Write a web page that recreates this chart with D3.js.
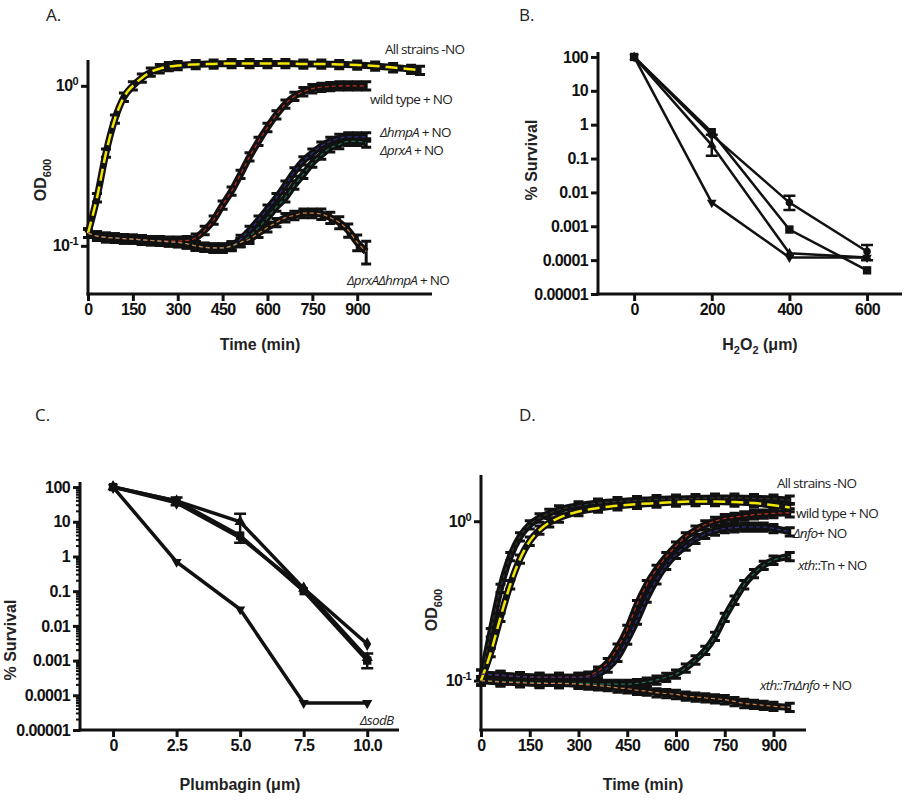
<!DOCTYPE html>
<html><head><meta charset="utf-8">
<script src="https://cdn.jsdelivr.net/npm/d3@7"></script>
<style>
body{margin:0;background:#fff}
.tick text{font-family:"Liberation Sans Narrow","Liberation Sans",Arial,sans-serif;font-weight:bold;font-size:16px;letter-spacing:-0.6px;fill:#111}
.lab{font-family:"Liberation Sans","Arial",sans-serif;font-weight:bold;font-size:16px;fill:#222}
.ann{font-family:"Open Sans","Noto Sans",sans-serif;font-size:13.5px;letter-spacing:-0.7px;fill:#222}
.pl{font-family:"Open Sans","Noto Sans",sans-serif;font-size:17px;fill:#222}
</style></head><body>
<div id="chart"></div>
<script>
// ---------- panel A data (OD600 vs time) ----------
const aTimeAll = [0,30,60,90,120,150,180,210,240,270,300,360,420,480,540,600,660,720,780,840,900,960,1020,1080,1110];
const aAllNO   = [0.12,0.2,0.38,0.62,0.85,1.0,1.12,1.22,1.28,1.32,1.34,1.36,1.37,1.38,1.38,1.38,1.38,1.37,1.37,1.36,1.35,1.33,1.3,1.27,1.25];
const aTime = [0,30,60,90,120,150,180,210,240,270,300,330,360,390,420,450,480,510,540,570,600,630,660,690,720,750,780,810,840,870,900,930];
const aWT     = [0.12,0.115,0.113,0.112,0.111,0.11,0.109,0.108,0.108,0.107,0.107,0.108,0.112,0.125,0.145,0.18,0.22,0.28,0.36,0.45,0.55,0.66,0.77,0.86,0.92,0.96,0.98,0.99,1.0,1.0,1.0,1.0];
const aHmpA   = [0.12,0.115,0.113,0.112,0.111,0.11,0.109,0.108,0.107,0.106,0.105,0.103,0.1,0.098,0.097,0.097,0.1,0.11,0.125,0.145,0.17,0.2,0.24,0.29,0.34,0.38,0.42,0.45,0.47,0.48,0.48,0.48];
const aPrxA   = [0.12,0.115,0.113,0.112,0.111,0.11,0.109,0.108,0.107,0.106,0.105,0.103,0.1,0.098,0.097,0.097,0.099,0.105,0.115,0.13,0.15,0.175,0.2,0.24,0.28,0.33,0.37,0.41,0.43,0.45,0.45,0.44];
const aDouble = [0.12,0.115,0.113,0.112,0.111,0.11,0.109,0.108,0.107,0.106,0.105,0.103,0.1,0.098,0.097,0.097,0.1,0.105,0.11,0.12,0.13,0.14,0.15,0.155,0.16,0.16,0.158,0.15,0.14,0.125,0.105,0.092];
const aErrDouble = [0,0,0,0,0,0,0,0,0,0,0,0,0,0,0,0,0,0,0,0,0,0,0,0,0.01,0.01,0.012,0.012,0.012,0.012,0.012,0.015];

// ---------- panel B data (% survival vs H2O2) ----------
const bDose = [0,200,400,600];
const bSquare  = [100,0.6,0.0008,0.00005];
const bCircle  = [100,0.5,0.005,0.00018];
const bTriUp   = [100,0.25,0.00016,0.00012];
const bTriDown = [100,0.005,0.00012,0.00012];
const bErr = [{x:200,lo:0.12,hi:0.5},{x:400,lo:0.003,hi:0.008},{x:600,lo:0.0001,hi:0.00028}];

// ---------- panel C data (% survival vs plumbagin) ----------
const cDose = [0,2.5,5.0,7.5,10.0];
const cSquare  = [100,40,4,0.1,0.001];
const cTriUp   = [100,40,10,0.12,0.0012];
const cDiamond = [100,35,3.5,0.12,0.003];
const cTriDown = [100,0.7,0.03,0.00006,0.00006];
const cErr = [{x:2.5,lo:30,hi:50},{x:5.0,lo:2.5,hi:17},{x:10.0,lo:0.0006,hi:0.0016}];

// ---------- panel D data (OD600 vs time) ----------
const dTimeAll = [0,30,60,90,120,150,180,210,240,300,360,420,480,540,600,660,720,780,840,900,950];
const dAllNO1  = [0.1,0.2,0.38,0.6,0.8,0.95,1.05,1.12,1.18,1.25,1.3,1.33,1.35,1.37,1.38,1.39,1.4,1.4,1.39,1.38,1.36];
const dAllNO2  = [0.1,0.15,0.25,0.4,0.58,0.75,0.88,0.98,1.05,1.15,1.21,1.25,1.28,1.3,1.32,1.33,1.33,1.32,1.3,1.26,1.22];
const dTime = [0,60,120,180,240,300,330,360,390,420,450,480,510,540,570,600,630,660,690,720,750,780,810,840,870,900,950];
const dWT   = [0.11,0.108,0.106,0.105,0.105,0.105,0.107,0.115,0.13,0.16,0.21,0.3,0.4,0.5,0.6,0.7,0.8,0.88,0.95,1.0,1.04,1.06,1.08,1.1,1.11,1.12,1.13];
const dNfo  = [0.11,0.108,0.106,0.105,0.105,0.105,0.105,0.11,0.12,0.14,0.18,0.24,0.33,0.43,0.53,0.62,0.7,0.77,0.83,0.87,0.9,0.91,0.92,0.92,0.92,0.9,0.86];
const dXth  = [0.1,0.099,0.098,0.097,0.096,0.096,0.096,0.095,0.095,0.095,0.095,0.096,0.098,0.101,0.105,0.11,0.12,0.135,0.155,0.19,0.25,0.32,0.4,0.47,0.53,0.57,0.6];
const dDouble = [0.1,0.098,0.097,0.096,0.096,0.095,0.094,0.093,0.092,0.09,0.089,0.087,0.086,0.084,0.083,0.082,0.08,0.079,0.078,0.077,0.076,0.074,0.072,0.071,0.07,0.069,0.068];

const svg = d3.select("#chart").append("svg").attr("width",911).attr("height",800);

function panelLabel(t,x,y){ svg.append("text").attr("class","pl").attr("x",x).attr("y",y).text(t); }

function sup(sel, base, exp){
  sel.text(null);
  sel.append("tspan").text(base);
  sel.append("tspan").attr("dy",-6).attr("font-size",11).text(exp);
}

function drawAxes(x,y,opts){
  const g = svg.append("g");
  const [x0,x1] = x.range(), [y0,y1] = y.range();
  const xa = g.append("g").attr("transform",`translate(0,${y0})`)
    .call(d3.axisBottom(x).tickValues(opts.xTicks).tickFormat(opts.xFmt||d3.format("d")).tickSize(7).tickSizeOuter(0));
  const ya = g.append("g").attr("transform",`translate(${x0},0)`)
    .call(d3.axisLeft(y).tickValues(opts.yTicks).tickFormat(opts.yFmt||(d=>d)).tickSize(7).tickSizeOuter(0));
  [xa,ya].forEach(a=>{a.selectAll("path,line").attr("stroke","#111").attr("stroke-width",3);});
  xa.select(".domain").attr("d",`M${x0-1.5},0H${x1}`);
  ya.select(".domain").attr("d",`M0,${y0+1.5}V${y1}`);
  if(opts.minor){
    ya.selectAll(".mn").data(opts.minor).join("line").attr("class","mn")
      .attr("x1",-4).attr("x2",0).attr("y1",d=>y(d)).attr("y2",d=>y(d)).attr("stroke","#111").attr("stroke-width",2);
  }
  return {g,xa,ya};
}

function italicLabel(it,rest,x,y){
  const t = svg.append("text").attr("class","ann").attr("x",x).attr("y",y);
  t.append("tspan").attr("font-style","italic").text(it);
  t.append("tspan").text(rest);
}

function drawGrowth(series,x,y){
  const line = d3.line().curve(d3.curveMonotoneX);
  series.forEach(s=>{
    const pts = s.t.map((t,i)=>[x(t),y(s.v[i])]);
    svg.append("path").attr("d",line(pts)).attr("fill","none").attr("stroke","#111").attr("stroke-width",7);
    s.t.forEach((t,i)=>{
      const v = s.v[i], e = s.e ? Math.max(s.e[i], v*0.06) : v*0.06;
      const yl = y(v-e), yh = y(v+e), cx = x(t);
      svg.append("path").attr("d",`M${cx},${yl}V${yh}M${cx-5},${yl}H${cx+5}M${cx-5},${yh}H${cx+5}`)
        .attr("stroke","#111").attr("stroke-width",3).attr("fill","none");
    });
  });
  series.forEach(s=>{
    const pts = s.t.map((t,i)=>[x(t),y(s.v[i])]);
    svg.append("path").attr("d",line(pts)).attr("fill","none").attr("stroke",s.c)
      .attr("stroke-width",s.c==="#f2e600"?2.5:1.2).attr("stroke-dasharray",s.c==="#f2e600"?"12,6":"4,3");
  });
}

function drawSurvival(series,errs,x,y){
  const line = d3.line();
  series.forEach(s=>{
    svg.append("path").attr("d",line(s.x.map((d,i)=>[x(d),y(s.v[i])]))).attr("fill","none").attr("stroke","#111").attr("stroke-width",s.w||2.5);
    const sym = d3.symbol().type(s.sym).size(s.size||55);
    s.x.forEach((d,i)=>{
      svg.append("path").attr("d",sym()).attr("fill","#111")
        .attr("transform",`translate(${x(d)},${y(s.v[i])}) rotate(${s.rot||0})`);
    });
  });
  errs.forEach(e=>{
    const cx=x(e.x), yl=y(e.lo), yh=y(e.hi);
    svg.append("path").attr("d",`M${cx},${yl}V${yh}M${cx-6},${yl}H${cx+6}M${cx-6},${yh}H${cx+6}`)
      .attr("stroke","#111").attr("stroke-width",2.5).attr("fill","none");
  });
}

const logTicks = [100,10,1,0.1,0.01,0.001,0.0001,0.00001];
const logFmt = d=>({100:"100",10:"10",1:"1",0.1:"0.1",0.01:"0.01",0.001:"0.001",0.0001:"0.0001",0.00001:"0.00001"})[d];

// ---------------- Panel A ----------------
{
  const x = d3.scaleLinear().domain([0,1150]).range([88,432]);
  const y = d3.scaleLog().domain([0.05,1.45]).range([294,60]);
  const ax = drawAxes(x,y,{xTicks:d3.range(0,901,150),yTicks:[1,0.1]});
  ax.ya.selectAll(".tick text").each(function(d){ sup(d3.select(this),"10",d===1?"0":"-1"); });
  drawGrowth([
    {t:aTimeAll,v:aAllNO,c:"#f2e600",e:null},
    {t:aTime,v:aWT,c:"#c03020",e:null},
    {t:aTime,v:aHmpA,c:"#303090",e:null},
    {t:aTime,v:aPrxA,c:"#207050",e:null},
    {t:aTime,v:aDouble,c:"#d08040",e:aErrDouble}
  ],x,y);
  svg.append("text").attr("class","lab").attr("transform","translate(46,180) rotate(-90)").attr("text-anchor","middle")
    .call(s=>{s.append("tspan").text("OD");s.append("tspan").attr("dy",5).attr("font-size",11).text("600");});
  svg.append("text").attr("class","lab").attr("x",260).attr("y",350).attr("text-anchor","middle").text("Time (min)");
  svg.append("text").attr("class","ann").attr("x",385).attr("y",54).text("All strains -NO");
  svg.append("text").attr("class","ann").attr("x",370).attr("y",104).text("wild type + NO");
  italicLabel("ΔhmpA"," + NO",380,137);
  italicLabel("ΔprxA"," + NO",380,155);
  italicLabel("ΔprxAΔhmpA"," + NO",347,285);
  panelLabel("A.",46,21);
}

// ---------------- Panel B ----------------
{
  const x = d3.scaleLinear().domain([-93,690]).range([598,902]);
  const y = d3.scaleLog().domain([0.00001,140]).range([294,52]);
  drawAxes(x,y,{xTicks:bDose,yTicks:logTicks,yFmt:logFmt});
  drawSurvival([
    {x:bDose,v:bSquare,sym:d3.symbolSquare,size:70},
    {x:bDose,v:bCircle,sym:d3.symbolCircle,size:45},
    {x:bDose,v:bTriUp,sym:d3.symbolTriangle,size:40},
    {x:bDose,v:bTriDown,sym:d3.symbolTriangle,size:40,rot:180}
  ],bErr,x,y);
  svg.append("text").attr("class","lab").attr("transform","translate(537,160) rotate(-90)").attr("text-anchor","middle").text("% Survival");
  svg.append("text").attr("class","lab").attr("x",760).attr("y",350).attr("text-anchor","middle")
    .call(s=>{s.append("tspan").text("H");s.append("tspan").attr("dy",4).attr("font-size",11).text("2");
      s.append("tspan").attr("dy",-4).text("O");s.append("tspan").attr("dy",4).attr("font-size",11).text("2");
      s.append("tspan").attr("dy",-4).text(" (μm)");});
  panelLabel("B.",519,21);
}

// ---------------- Panel C ----------------
{
  const x = d3.scaleLinear().domain([-1.3,11.25]).range([80,399]);
  const y = d3.scaleLog().domain([0.00001,140]).range([730,482]);
  const minor = [];
  [0.00001,0.0001,0.001,0.01,0.1,1,10].forEach(b=>{for(let k=2;k<10;k++) minor.push(b*k);});
  drawAxes(x,y,{xTicks:cDose,yTicks:logTicks,yFmt:logFmt,xFmt:d=>d===0?"0":d3.format(".1f")(d),minor:minor});
  drawSurvival([
    {x:cDose,v:cSquare,sym:d3.symbolSquare,size:70,w:3.5},
    {x:cDose,v:cTriUp,sym:d3.symbolTriangle,size:55,w:3.5},
    {x:cDose,v:cDiamond,sym:d3.symbolDiamond,size:55,w:3.5},
    {x:cDose,v:cTriDown,sym:d3.symbolTriangle,size:45,rot:180,w:3.5}
  ],cErr,x,y);
  svg.append("text").attr("class","lab").attr("transform","translate(16,640) rotate(-90)").attr("text-anchor","middle").text("% Survival");
  svg.append("text").attr("class","lab").attr("x",240).attr("y",790).attr("text-anchor","middle").text("Plumbagin (μm)");
  svg.append("text").attr("class","ann").attr("x",360).attr("y",725).attr("font-style","italic").text("ΔsodB");
  panelLabel("C.",35,421);
}

// ---------------- Panel D ----------------
{
  const x = d3.scaleLinear().domain([0,1000]).range([481,806]);
  const y = d3.scaleLog().domain([0.049,1.95]).range([730,475]);
  const ax = drawAxes(x,y,{xTicks:d3.range(0,901,150),yTicks:[1,0.1]});
  ax.ya.selectAll(".tick text").each(function(d){ sup(d3.select(this),"10",d===1?"0":"-1"); });
  drawGrowth([
    {t:dTimeAll,v:dAllNO1,c:"#333",e:null},
    {t:dTimeAll,v:dAllNO2,c:"#f2e600",e:null},
    {t:dTime,v:dWT,c:"#c03020",e:null},
    {t:dTime,v:dNfo,c:"#303090",e:null},
    {t:dTime,v:dXth,c:"#207050",e:null},
    {t:dTime,v:dDouble,c:"#d08040",e:null}
  ],x,y);
  svg.append("text").attr("class","lab").attr("transform","translate(437,610) rotate(-90)").attr("text-anchor","middle")
    .call(s=>{s.append("tspan").text("OD");s.append("tspan").attr("dy",5).attr("font-size",11).text("600");});
  svg.append("text").attr("class","lab").attr("x",643).attr("y",790).attr("text-anchor","middle").text("Time (min)");
  svg.append("text").attr("class","ann").attr("x",777).attr("y",488).text("All strains -NO");
  svg.append("text").attr("class","ann").attr("x",796).attr("y",518).text("wild type + NO");
  italicLabel("Δnfo","+ NO",793,538);
  italicLabel("xth","::Tn + NO",798,570);
  const t = svg.append("text").attr("class","ann").attr("x",760).attr("y",690);
  t.append("tspan").attr("font-style","italic").text("xth::TnΔnfo");
  t.append("tspan").text(" + NO");
  panelLabel("D.",519,421);
}
</script></body></html>
